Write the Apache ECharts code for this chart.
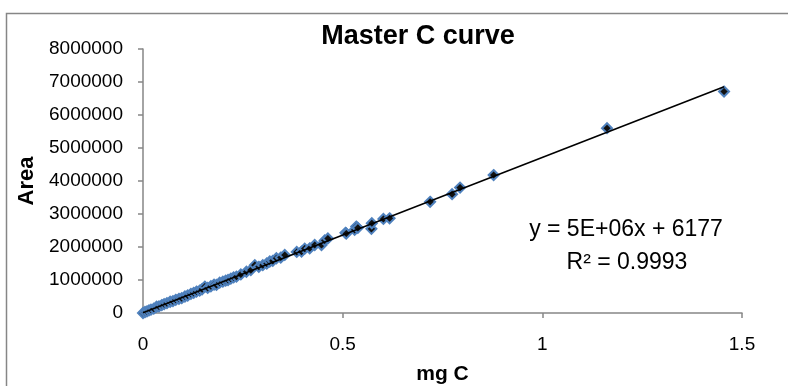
<!DOCTYPE html>
<html>
<head>
<meta charset="utf-8">
<script src="https://cdn.jsdelivr.net/npm/echarts@6/dist/echarts.min.js"></script>
<style>html,body{margin:0;padding:0;background:#fff}#c{width:788px;height:386px}</style>
</head>
<body>
<div id="c"></div>
<script>
var titleText = 'Master C curve';
var xName = 'mg C';
var yName = 'Area';
var xTicks = [0, 0.5, 1, 1.5];
var yTicks = [0, 1000000, 2000000, 3000000, 4000000, 5000000, 6000000, 7000000, 8000000];
var mgC = [0.000,0.005,0.010,0.015,0.020,0.027,0.034,0.040,0.047,0.053,0.060,0.068,0.075,0.082,0.090,0.097,0.105,0.112,0.120,0.127,0.134,0.142,0.148,0.155,0.162,0.170,0.178,0.184,0.192,0.200,0.207,0.213,0.220,0.227,0.234,0.245,0.259,0.270,0.280,0.290,0.300,0.310,0.3175,0.325,0.334,0.345,0.355,0.385,0.397,0.405,0.4175,0.430,0.447,0.455,0.463,0.507,0.509,0.530,0.534,0.538,0.572,0.573,0.602,0.6175,0.719,0.774,0.794,0.878,1.162,1.455];
var area = [0,30000,50000,80000,100000,130000,190000,200000,240000,270000,300000,340000,360000,400000,430000,450000,500000,530000,580000,610000,650000,680000,720000,800000,760000,810000,860000,850000,920000,950000,980000,1000000,1040000,1080000,1100000,1170000,1250000,1300000,1450000,1400000,1450000,1500000,1560000,1580000,1660000,1680000,1760000,1850000,1860000,1950000,1960000,2060000,2060000,2200000,2260000,2430000,2410000,2520000,2620000,2580000,2550000,2720000,2850000,2870000,3370000,3600000,3800000,4180000,5600000,6710000];
var trendSlope = 4710000;
var trendIntercept = 6177;
var eqText = 'y = 5E+06x + 6177';
var r2Text = 'R\u00b2 = 0.9993';

var pts = mgC.map(function(x, i){ return [x, area[i]]; });
var xMin = Math.min.apply(null, mgC), xMax = Math.max.apply(null, mgC);
var trend = [[xMin, trendSlope * xMin + trendIntercept], [xMax, trendSlope * xMax + trendIntercept]];

var FONT = 'Liberation Sans';
var axisCol = '#868686';
var chart = echarts.init(document.getElementById('c'), null, {renderer: 'canvas'});
chart.setOption({
  animation: false,
  backgroundColor: '#fff',
  grid: {left: 143, right: 46, top: 49, bottom: 73, containLabel: false, outerBoundsMode: 'none'},
  xAxis: {
    type: 'value', min: xTicks[0], max: xTicks[xTicks.length-1], interval: 0.5,
    name: xName, nameLocation: 'middle', nameGap: 51,
    nameTextStyle: {fontFamily: FONT, fontSize: 21, fontWeight: 'bold', color: '#000'},
    axisLine: {lineStyle: {color: axisCol, width: 1.5}},
    axisTick: {show: true, length: 5, lineStyle: {color: axisCol, width: 1.5}},
    axisLabel: {fontFamily: FONT, fontSize: 19, color: '#000', margin: 22, formatter: function(v){ return String(v); }},
    splitLine: {show: false}
  },
  yAxis: {
    type: 'value', min: yTicks[0], max: yTicks[yTicks.length-1], interval: 1000000,
    name: yName, nameLocation: 'middle', nameGap: 96,
    nameTextStyle: {fontFamily: FONT, fontSize: 22, fontWeight: 'bold', color: '#000'},
    axisLine: {show: true, lineStyle: {color: axisCol, width: 1.5}},
    axisTick: {show: true, length: 5, lineStyle: {color: axisCol, width: 1.5}},
    axisLabel: {fontFamily: FONT, fontSize: 19, color: '#000', margin: 20, formatter: function(v){ return String(v); }},
    splitLine: {show: false}
  },
  series: [
    {
      type: 'scatter', data: pts, symbol: 'diamond', symbolSize: 10,
      itemStyle: {color: '#111', borderColor: '#4F81BD', borderWidth: 2, opacity: 1},
      z: 2
    },
    {
      type: 'line', data: trend, symbol: 'none',
      lineStyle: {color: '#000', width: 1.6}, z: 3
    }
  ],
  graphic: [
    {type: 'rect', shape: {x: 6.5, y: 13.5, width: 800, height: 400}, style: {fill: 'none', stroke: axisCol, lineWidth: 1.5}, z: 0},
    {type: 'text', x: 418, y: 37, style: {text: titleText, fontFamily: FONT, fontSize: 27, fontWeight: 'bold', fill: '#000', textAlign: 'center', textVerticalAlign: 'middle'}},
    {type: 'text', x: 626, y: 230, style: {text: eqText, fontFamily: FONT, fontSize: 23, fill: '#000', textAlign: 'center', textVerticalAlign: 'middle'}},
    {type: 'text', x: 627, y: 263, style: {text: r2Text, fontFamily: FONT, fontSize: 23, fill: '#000', textAlign: 'center', textVerticalAlign: 'middle'}}
  ]
});
</script>
</body>
</html>
